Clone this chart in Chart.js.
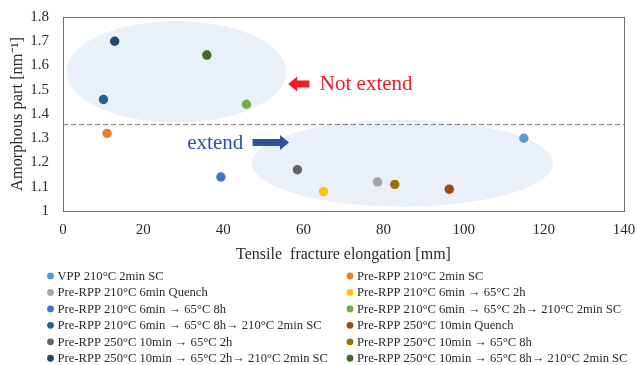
<!DOCTYPE html>
<html>
<head>
<meta charset="utf-8">
<script src="https://cdn.jsdelivr.net/npm/chart.js@4.4.1/dist/chart.umd.min.js"></script>
<style>
  html, body { margin: 0; padding: 0; background: #fff; }
  #wrap { width: 637px; height: 365px; }
</style>
</head>
<body>
<div id="wrap"><canvas id="chart" width="637" height="365"></canvas></div>
<script>
// series, in legend order (row by row, two columns)
const seriesNames = [
  'VPP 210°C 2min SC',
  'Pre-RPP 210°C 2min SC',
  'Pre-RPP 210°C 6min Quench',
  'Pre-RPP 210°C 6min → 65°C 2h',
  'Pre-RPP 210°C 6min → 65°C 8h',
  'Pre-RPP 210°C 6min → 65°C 2h→ 210°C 2min SC',
  'Pre-RPP 210°C 6min → 65°C 8h→ 210°C 2min SC',
  'Pre-RPP 250°C 10min Quench',
  'Pre-RPP 250°C 10min → 65°C 2h',
  'Pre-RPP 250°C 10min → 65°C 8h',
  'Pre-RPP 250°C 10min → 65°C 2h→ 210°C 2min SC',
  'Pre-RPP 250°C 10min → 65°C 8h→ 210°C 2min SC',
];
const elongation = [115, 11, 78.5, 65, 39.4, 45.8, 10.1, 96.4, 58.5, 82.8, 12.9, 35.9];
const amorphous  = [1.30, 1.32, 1.12, 1.08, 1.14, 1.44, 1.46, 1.09, 1.17, 1.11, 1.70, 1.643];
const seriesColors = [
  '#5B9BD5', '#ED7D31', '#A5A5A5', '#FFC000', '#4472C4', '#70AD47',
  '#255E91', '#9E480E', '#636363', '#997300', '#264478', '#43682B',
];
const xTicks = [0, 20, 40, 60, 80, 100, 120, 140];
const yTicks = [1, 1.1, 1.2, 1.3, 1.4, 1.5, 1.6, 1.7, 1.8];
const threshold = 1.357;

// annotation shapes, in data units
const upperGroup = { cx: 28.3, cy: 1.574, rx: 27.4, ry: 0.21 };
const lowerGroup = { cx: 84.7, cy: 1.197, rx: 37.6, ry: 0.179 };
const notExtendNote = { x: 64.1, y: 1.524, arrowFrom: 61.5, arrowTo: 56.2 };
const extendNote = { x: 31.0, y: 1.282, arrowFrom: 47.3, arrowTo: 56.4 };

const SERIF = '"Liberation Serif", "Times New Roman", serif';
const TEXT = '#2a2a2a';

function blockArrow(ctx, x0, x1, y, color) {
  const dir = x1 > x0 ? 1 : -1;
  const len = Math.abs(x1 - x0);
  const head = Math.min(9, len * 0.45);
  const body = 3.5, hh = 7.5;
  const xn = x1 - dir * head;
  ctx.fillStyle = color;
  ctx.beginPath();
  ctx.moveTo(x0, y - body);
  ctx.lineTo(xn, y - body);
  ctx.lineTo(xn, y - hh);
  ctx.lineTo(x1, y);
  ctx.lineTo(xn, y + hh);
  ctx.lineTo(xn, y + body);
  ctx.lineTo(x0, y + body);
  ctx.closePath();
  ctx.fill();
}

const backdrop = {
  id: 'backdrop',
  beforeDatasetsDraw(chart) {
    const { ctx, chartArea: a, scales: { x, y } } = chart;
    ctx.save();
    ctx.fillStyle = '#EAF0F8';
    [upperGroup, lowerGroup].forEach(g => {
      const cx = x.getPixelForValue(g.cx), cy = y.getPixelForValue(g.cy);
      const rx = x.getPixelForValue(g.cx + g.rx) - cx;
      const ry = cy - y.getPixelForValue(g.cy + g.ry);
      ctx.beginPath();
      ctx.ellipse(cx, cy, rx, ry, 0, 0, Math.PI * 2);
      ctx.fill();
    });

    // threshold line
    const ty = Math.round(y.getPixelForValue(threshold)) + 0.5;
    ctx.strokeStyle = '#808080';
    ctx.lineWidth = 1;
    ctx.setLineDash([5, 3]);
    ctx.beginPath();
    ctx.moveTo(a.left, ty);
    ctx.lineTo(a.right, ty);
    ctx.stroke();
    ctx.setLineDash([]);

    // notes
    ctx.font = '21px ' + SERIF;
    ctx.textBaseline = 'middle';
    ctx.textAlign = 'left';
    let ny = y.getPixelForValue(notExtendNote.y);
    blockArrow(ctx, x.getPixelForValue(notExtendNote.arrowFrom), x.getPixelForValue(notExtendNote.arrowTo), ny, '#EE1C25');
    ctx.fillStyle = '#EE1C25';
    ctx.fillText('Not extend', x.getPixelForValue(notExtendNote.x), ny + 1);

    let ey = y.getPixelForValue(extendNote.y);
    blockArrow(ctx, x.getPixelForValue(extendNote.arrowFrom), x.getPixelForValue(extendNote.arrowTo), ey, '#2F52A0');
    ctx.fillStyle = '#2F52A0';
    ctx.fillText('extend', x.getPixelForValue(extendNote.x), ey + 1);
    ctx.restore();
  },
  afterDatasetsDraw(chart) {
    const { ctx, chartArea: a } = chart;
    ctx.save();
    ctx.strokeStyle = '#6E6E6E';
    ctx.lineWidth = 1;
    ctx.strokeRect(Math.round(a.left) + 0.5, Math.round(a.top) + 0.5,
      Math.round(a.right - a.left), Math.round(a.bottom - a.top));
    ctx.restore();
  },
  afterDraw(chart) {
    const { ctx } = chart;
    ctx.save();
    ctx.font = '12.6px ' + SERIF;
    ctx.textBaseline = 'middle';
    ctx.textAlign = 'left';
    chart.data.datasets.forEach((ds, i) => {
      const col = i % 2, row = Math.floor(i / 2);
      const mx = col ? 350 : 50.5;
      const my = 276 + row * 16.45;
      ctx.fillStyle = ds.backgroundColor;
      ctx.beginPath();
      ctx.arc(mx, my, 3.4, 0, Math.PI * 2);
      ctx.fill();
      ctx.fillStyle = TEXT;
      ctx.fillText(ds.label, mx + 7, my + 0.5);
    });
    ctx.restore();
  },
};

new Chart(document.getElementById('chart'), {
  type: 'scatter',
  data: {
    datasets: seriesNames.map((name, i) => ({
      label: name,
      data: [{ x: elongation[i], y: amorphous[i] }],
      backgroundColor: seriesColors[i],
      borderColor: seriesColors[i],
      borderWidth: 0,
      pointRadius: 4.7,
    })),
  },
  options: {
    responsive: false,
    animation: false,
    layout: { padding: { left: 0, top: 17, right: 13, bottom: 94 } },
    plugins: {
      legend: { display: false },
      tooltip: { enabled: false },
    },
    scales: {
      x: {
        type: 'linear',
        min: xTicks[0], max: xTicks[xTicks.length - 1],
        afterBuildTicks: s => { s.ticks = xTicks.map(v => ({ value: v })); },
        afterFit: s => { s.height = 60; },
        grid: { display: false, drawTicks: true, tickLength: 10 },
        border: { display: false },
        ticks: { color: TEXT, padding: 0, font: { family: SERIF, size: 15 } },
        title: {
          display: true, text: 'Tensile  fracture elongation [mm]', color: TEXT,
          font: { family: SERIF, size: 16 }, padding: { top: 0, bottom: 6.4 },
        },
      },
      y: {
        type: 'linear',
        min: yTicks[0], max: yTicks[yTicks.length - 1],
        afterBuildTicks: s => { s.ticks = yTicks.map(v => ({ value: v })); },
        afterFit: s => { s.width = 63; },
        grid: { display: false, drawTicks: true, tickLength: 14 },
        border: { display: false },
        ticks: {
          color: TEXT, padding: 0, font: { family: SERIF, size: 15 },
          callback: v => String(+v.toFixed(1)),
        },
        title: {
          display: true, text: 'Amorphous part [nm⁻¹]', color: TEXT,
          font: { family: SERIF, size: 16.4 }, padding: { top: 7.4, bottom: 0 },
        },
      },
    },
  },
  plugins: [backdrop],
});
</script>
</body>
</html>
